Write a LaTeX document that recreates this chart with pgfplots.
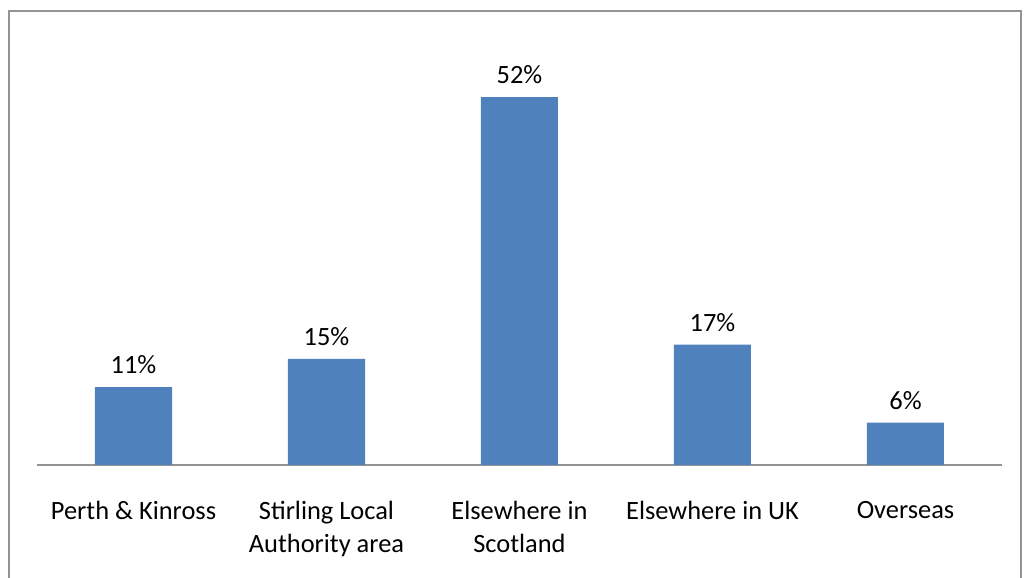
\documentclass[border=0pt]{standalone}
\usepackage{pgfplots}
\pgfplotsset{compat=1.18}
\usepackage{fontspec}
\setmainfont{Carlito}
\definecolor{barblue}{HTML}{4F81BD}
\begin{document}
\begin{tikzpicture}[x=1pt,y=1pt]
\useasboundingbox (0,0) rectangle (512.5,289);
\fill[white] (0,0) rectangle (512.5,289);
\draw[line width=1pt, gray!85] (4.5,-2) -- (4.5,283.5) -- (510.5,283.5) -- (510.5,-2);
\begin{axis}[
  at={(18.5pt,56.5pt)}, anchor=south west,
  scale only axis, width=482.5pt, height=212.3pt,
  xmin=-0.5, xmax=4.5, ymin=0, ymax=60,
  axis x line=bottom, axis y line=none,
  x axis line style={-, gray!85, line width=1pt},
  xtick={0,1,2,3,4},
  xticklabels={{Perth \& Kinross},{Stirling Local\\Authority area},{Elsewhere in\\Scotland},{Elsewhere in UK},{Overseas}},
  major tick length=0pt,
  xticklabel style={font=\fontsize{13.2}{16.5}\selectfont, align=center, anchor=north, yshift=-14.5pt},
  ybar, bar width=38.5pt,
  /pgf/number format/assume math mode=true,
  nodes near coords={\pgfmathprintnumber{\pgfplotspointmeta}\%},
  every node near coord/.append style={font=\fontsize{13.2}{15}\selectfont, black, yshift=3pt},
  clip=false,
]
\addplot[fill=barblue, draw=none] coordinates {(0,11) (1,15) (2,52) (3,17) (4,6)};
\end{axis}
\end{tikzpicture}
\end{document}
